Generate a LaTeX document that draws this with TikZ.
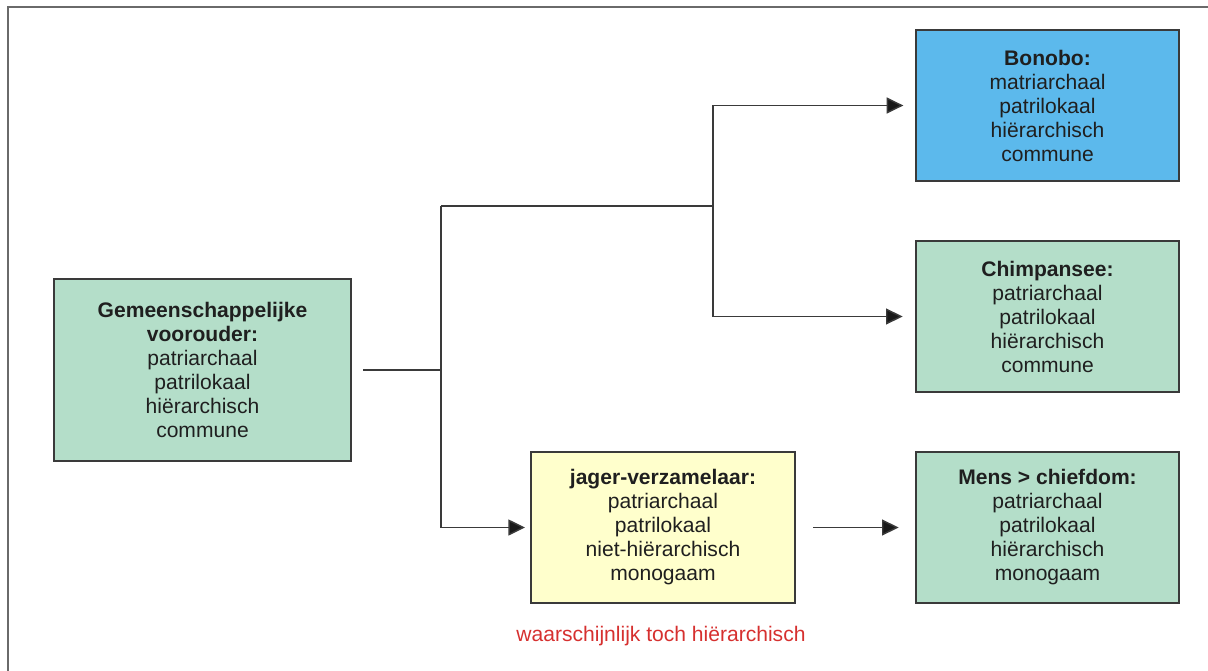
\documentclass[tikz,border=0pt]{standalone}
\usepackage{fontspec}
\setmainfont{Liberation Sans}
\usetikzlibrary{arrows.meta}
\definecolor{boxgreen}{HTML}{B4DEC9}
\definecolor{boxblue}{HTML}{5CB9EC}
\definecolor{boxyellow}{HTML}{FFFFCC}
\definecolor{txtred}{HTML}{D6302F}
\definecolor{linegray}{HTML}{3A3A3A}
\definecolor{framegray}{HTML}{6A6A6A}
\begin{document}
\begin{tikzpicture}[x=0.75pt,y=-0.75pt,
  infobox/.style={draw=linegray, line width=1.1pt, inner sep=0pt, outer sep=0pt,
    minimum width=197.25pt, minimum height=113.25pt, align=center,
    font=\fontsize{15.8}{18}\selectfont, text=black!88},
  conn/.style={draw=linegray, line width=1.1pt},
  arr/.style={conn, -{Triangle[length=12.5pt,width=12pt,fill=black!90]}},
  ]
\useasboundingbox (0,0) rectangle (1208,671);
\draw[framegray, line width=1.6pt] (8,700) -- (8,7) -- (1230,7);

\node[infobox, fill=boxgreen, minimum width=222.75pt, minimum height=136.5pt] (g) at (202.5,370)
  {\textbf{Gemeenschappelijke}\\\textbf{voorouder:}\\patriarchaal\\patrilokaal\\hiërarchisch\\commune};
\node[infobox, fill=boxblue] (b) at (1047.5,105.5)
  {\textbf{Bonobo:}\\matriarchaal\\patrilokaal\\hiërarchisch\\commune};
\node[infobox, fill=boxgreen] (c) at (1047.5,316.5)
  {\textbf{Chimpansee:}\\patriarchaal\\patrilokaal\\hiërarchisch\\commune};
\node[infobox, fill=boxyellow, minimum width=198pt] (j) at (663,527.5)
  {\textbf{jager-verzamelaar:}\\patriarchaal\\patrilokaal\\niet-hiërarchisch\\monogaam};
\node[infobox, fill=boxgreen] (m) at (1047.5,527.5)
  {\textbf{Mens > chiefdom:}\\patriarchaal\\patrilokaal\\hiërarchisch\\monogaam};
\node[text=txtred, font=\fontsize{15.8}{18}\selectfont, inner sep=0pt] (note) at (661,636)
  {waarschijnlijk toch hiërarchisch};

\coordinate (s1) at (441,370);
\coordinate (s2) at (441,206);
\coordinate (s3) at (713,206);

\draw[conn, shorten <=9pt] (g.east) -- (s1);
\draw[conn] (s2) -- (s3);
\draw[arr, shorten >=4.5pt] (s2) |- (j.west);
\draw[arr, shorten >=9.5pt] (s3) |- (b.west);
\draw[arr, shorten >=10pt] (s3) |- (c.west);
\draw[arr, shorten <=13.5pt, shorten >=13pt] (j.east) -- (m.west);
\end{tikzpicture}
\end{document}
